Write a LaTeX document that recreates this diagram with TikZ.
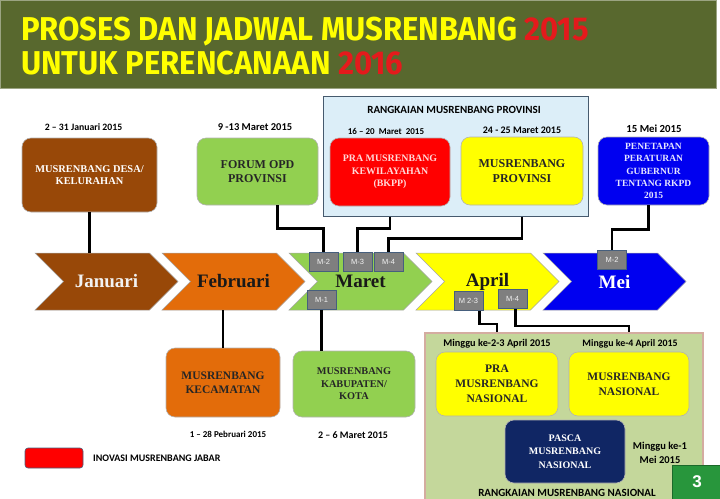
\documentclass[tikz,border=0pt]{standalone}
\usepackage{fontspec}
\setmainfont{Liberation Serif}
\newfontfamily\datefont{Carlito}
\newfontfamily\tilefont{Liberation Sans}
\newfontfamily\titlefont[FakeStretch=0.94]{Fira Sans}
\usetikzlibrary{positioning,shapes.symbols}
\definecolor{barolive}{RGB}{88,104,46}
\definecolor{titleyellow}{RGB}{255,255,0}
\definecolor{titlered}{RGB}{228,26,28}
\definecolor{desabrown}{RGB}{152,72,8}
\definecolor{kecorange}{RGB}{227,108,10}
\definecolor{opdgreen}{RGB}{146,208,80}
\definecolor{provyellow}{RGB}{255,255,0}
\definecolor{meiblue}{RGB}{0,0,240}
\definecolor{pascanavy}{RGB}{16,38,100}
\definecolor{provlight}{RGB}{220,238,248}
\definecolor{provedge}{RGB}{70,90,110}
\definecolor{nasgreen}{RGB}{196,215,155}
\definecolor{nasedge}{RGB}{212,172,160}
\definecolor{tilegray}{RGB}{127,127,127}
\definecolor{tileedge}{RGB}{70,95,125}
\definecolor{pagegreen}{RGB}{40,150,60}

\begin{document}
\begin{tikzpicture}[
    x=1pt,y=-1pt,
    titlebox/.style={rectangle,fill=barolive,draw=barolive!60!white,line width=1pt,
      minimum width=716pt,minimum height=88pt},
    titletext/.style={anchor=base west,inner sep=0pt,text=titleyellow,
      font=\titlefont\bfseries\fontsize{33}{36}\selectfont},
    group/.style={rectangle,line width=1pt},
    phase/.style={rectangle,rounded corners=9pt,draw=black!30,line width=0.6pt,
      align=center,inner sep=2pt},
    fs/.style 2 args={font=\bfseries\fontsize{#1}{#2}\selectfont},
    month/.style={signal,signal from=west,signal to=east,draw=black!35,line width=0.5pt,
      minimum width=143pt,minimum height=57pt,inner sep=0pt,
      font=\bfseries\fontsize{19}{21}\selectfont},
    tile/.style={rectangle,draw=tileedge,fill=tilegray,line width=0.8pt,
      minimum width=29pt,minimum height=19pt,inner sep=0pt,
      font=\tilefont\fontsize{7.5}{8}\selectfont,text=white!90!gray},
    datum/.style={inner sep=1pt,align=center,
      font=\datefont\bfseries\fontsize{#1}{14.5}\selectfont},
    datum/.default=9,
    link/.style={line width=2.4pt,black}
  ]
    \useasboundingbox (0,0) rectangle (720,498);

    % title
    \node[titlebox] (bar) at (358,44) {};
    \node[titletext] (titleone) at (21,40) {PROSES DAN JADWAL MUSRENBANG \textcolor{titlered}{2015}};
    \node[titletext] (titletwo) at (21,74) {UNTUK PERENCANAAN \textcolor{titlered}{2016}};

    % groups
    \node[group,fill=provlight,draw=provedge,minimum width=265pt,minimum height=120pt] (provinsi) at (455.5,156) {};
    \node[group,fill=nasgreen,draw=nasedge,line width=1.5pt,minimum width=278pt,minimum height=168pt] (nasional) at (564,417) {};
    \node[datum=11] (provtitle) at (454,110) {RANGKAIAN MUSRENBANG PROVINSI};
    \node[datum=11] (nastitle) at (567,493) {RANGKAIAN MUSRENBANG NASIONAL};

    % upper boxes
    \node[phase,fill=desabrown,text=white,minimum width=135pt,minimum height=74pt,fs={10.4}{12.5}] (desa) at (89.5,175) {MUSRENBANG DESA/\\KELURAHAN};
    \node[phase,fill=opdgreen,text=black!85,minimum width=121pt,minimum height=67pt,fs={12}{14}] (forum) at (257.5,171.5) {FORUM OPD\\PROVINSI};
    \node[phase,fill=red,text=white!85!red,minimum width=120pt,minimum height=68pt,fs={9.9}{12.5}] (prakw) at (390,172) {PRA MUSRENBANG\\KEWILAYAHAN\\(BKPP)};
    \node[phase,fill=provyellow,text=black!85,minimum width=122pt,minimum height=68pt,fs={12}{14.5}] (musprov) at (522,171) {MUSRENBANG\\PROVINSI};
    \node[phase,fill=meiblue,text=white!90!blue,minimum width=111pt,minimum height=68pt,fs={9.5}{12.2}] (penetapan) at (653.5,171) {PENETAPAN\\PERATURAN\\GUBERNUR\\TENTANG RKPD\\2015};

    \node[datum=9.75] (ddesa) at (83.5,127) {2 – 31 Januari 2015};
    \node[datum=10.5] (dforum) at (255,127) {9 -13 Maret 2015};
    \node[datum] (dprakw) at (386,131) {16 – 20\ \ Maret\ \ 2015};
    \node[datum=10] (dmusprov) at (522,130) {24 - 25 Maret 2015};
    \node[datum=10.8] (dpenetapan) at (654,129) {15 Mei 2015};

    % months
    \node[month,fill=desabrown,text=white!95!black] (januari) at (106.5,281.5) {Januari};
    \node[month,fill=kecorange,text=black!90] (februari) at (233.5,281.5) {Februari};
    \node[month,fill=opdgreen,text=black!90] (maret) at (360.5,281.5) {Maret};
    \node[month,fill=provyellow,text=black!90] (april) at (487.5,281.5) {April};
    \node[month,fill=meiblue,text=white] (mei) at (614.5,281.5) {Mei};

    % lower boxes
    \node[phase,fill=kecorange,text=black!85,minimum width=114pt,minimum height=69pt,fs={11.5}{13.5}] (kecamatan) at (223,382.5) {MUSRENBANG\\KECAMATAN};
    \node[phase,fill=opdgreen,text=black!85,minimum width=122pt,minimum height=66pt,fs={10.3}{12.5}] (kabupaten) at (354,384) {MUSRENBANG\\KABUPATEN/\\KOTA};
    \node[phase,fill=provyellow,text=black!85,minimum width=122pt,minimum height=64pt,fs={11.5}{15}] (pranas) at (497,384) {PRA\\MUSRENBANG\\NASIONAL};
    \node[phase,fill=provyellow,text=black!85,minimum width=120pt,minimum height=64pt,fs={11.5}{14.5}] (musnas) at (629,384) {MUSRENBANG\\NASIONAL};
    \node[phase,fill=pascanavy,text=white!90,minimum width=120pt,minimum height=63pt,fs={10}{13.3}] (pasca) at (565,451.5) {PASCA\\MUSRENBANG\\NASIONAL};

    \node[datum] (dkecamatan) at (228,434) {1 – 28 Pebruari 2015};
    \node[datum=10] (dkabupaten) at (353,435) {2 – 6 Maret 2015};
    \node[datum=10.3] (dpranas) at (497,344) {Minggu ke-2-3 April 2015};
    \node[datum=9.9] (dmusnas) at (630,344) {Minggu ke-4 April 2015};
    \node[datum=10.5] (dpasca) at (660,453) {Minggu ke-1\\Mei 2015};

    % legend and page number
    \node[phase,rounded corners=3pt,fill=red,draw=tileedge,minimum width=58pt,minimum height=20pt] (legend) at (54,458) {};
    \node[datum=10,anchor=west] (legendtext) at (92,458) {INOVASI MUSRENBANG JABAR};
    \node[rectangle,fill=pagegreen,draw=pagegreen!70!black,line width=1pt,minimum width=50pt,minimum height=34pt,
      text=white,font=\tilefont\bfseries\fontsize{17}{18}\selectfont] (pagenum) at (697,482) {3};

    % week tiles
    \node[tile] (mdua) at (323.5,261.5) {M-2};
    \node[tile] (mtiga) at (357.5,261.5) {M-3};
    \node[tile] (mempat) at (388.5,261.5) {M-4};
    \node[tile] (msatu) at (321.5,300) {M-1};
    \node[tile] (mduatiga) at (468.5,301) {M 2-3};
    \node[tile] (mempatapr) at (512.5,299) {M-4};
    \node[tile] (mduamei) at (612,259.5) {M-2};

    % links
    \draw[link] (desa.south) -- (desa.south |- januari.north);
    \draw[link] ([xshift=20pt]forum.south) -- ++(0,23) -| (mdua.north);
    \draw[link] (provinsi.south -| prakw.south) -- ++(0,12) -| (mtiga.north);
    \draw[link] (provinsi.south -| musprov.south) -- ++(0,22) -| (mempat.north);
    \draw[link] ([xshift=-5pt]penetapan.south) -- ++(0,24) -| (mduamei.north);
    \draw[link] (kecamatan.north |- februari.south) -- (kecamatan.north);
    \draw[link] (msatu.south) -- (msatu.south |- kabupaten.north);
    \draw[link] ([xshift=11pt]mduatiga.south) -- ++(0,13) -| (nasional.north -| pranas.north);
    \draw[link] ([xshift=3pt]mempatapr.south) -- ++(0,17) -| (nasional.north -| musnas.north);
  \end{tikzpicture}
\end{document}
